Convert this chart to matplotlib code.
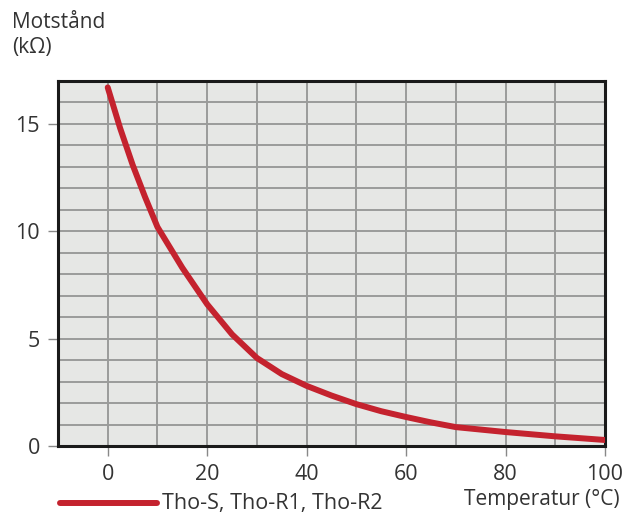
import matplotlib
matplotlib.use("Agg")
import matplotlib.pyplot as plt
from matplotlib.lines import Line2D

temps = [0, 2.5, 5, 7.5, 10, 15, 20, 25, 30, 35, 40, 45, 50, 55, 60, 65, 70, 80, 90, 100]
resist = [16.7, 14.8, 13.1, 11.6, 10.2, 8.3, 6.6, 5.2, 4.1, 3.35, 2.8, 2.35, 1.95, 1.62, 1.35, 1.1, 0.88, 0.65, 0.45, 0.28]
xticks = [0, 20, 40, 60, 80, 100]
yticks = [0, 5, 10, 15]
legend_label = "Tho-S, Tho-R1, Tho-R2"

plt.rcParams['font.family'] = ['Open Sans', 'DejaVu Sans']
txt = '#333333'
red = '#c4222e'
fs = 15

fig = plt.figure(figsize=(6.35, 5.15), dpi=100)
ax = fig.add_axes([58/635, 69/515, (605-58)/635, (446-81)/515])
ax.set_facecolor('#e6e7e5')
ax.set_xlim(-10, 100)
ax.set_ylim(0, 17)
ax.set_xticks(range(-10, 101, 10), minor=True)
ax.set_yticks(range(0, 18, 1), minor=True)
ax.set_xticks(xticks)
ax.set_yticks(yticks)
ax.grid(True, which='both', color='#9a9b9a', lw=1.4)
ax.set_axisbelow(True)
ax.plot(temps, resist, color=red, lw=4.3, solid_capstyle='round', solid_joinstyle='round', zorder=3)
for s in ax.spines.values():
    s.set_linewidth(2.2)
    s.set_color('#1a1a1a')
ax.tick_params(which='minor', length=0)
ax.tick_params(which='major', length=7, width=1, color='#888888', labelsize=15.5, labelcolor=txt, pad=6)

fig.text(12/635, 1-22/515, "Motstånd", fontsize=fs, color=txt, va='center', ha='left')
fig.text(12/635, 1-47/515, "(kΩ)", fontsize=fs, color=txt, va='center', ha='left')
fig.text(620/635, 1-500/515, "Temperatur (°C)", fontsize=fs, color=txt, va='center', ha='right')
fig.add_artist(Line2D([60/635, 157/635], [1-503/515, 1-503/515], color=red, lw=4.3, solid_capstyle='round'))
fig.text(162/635, 1-503/515, legend_label, fontsize=fs + 0.5, color=txt, va='center', ha='left')

fig.savefig("out.png", dpi=100)
